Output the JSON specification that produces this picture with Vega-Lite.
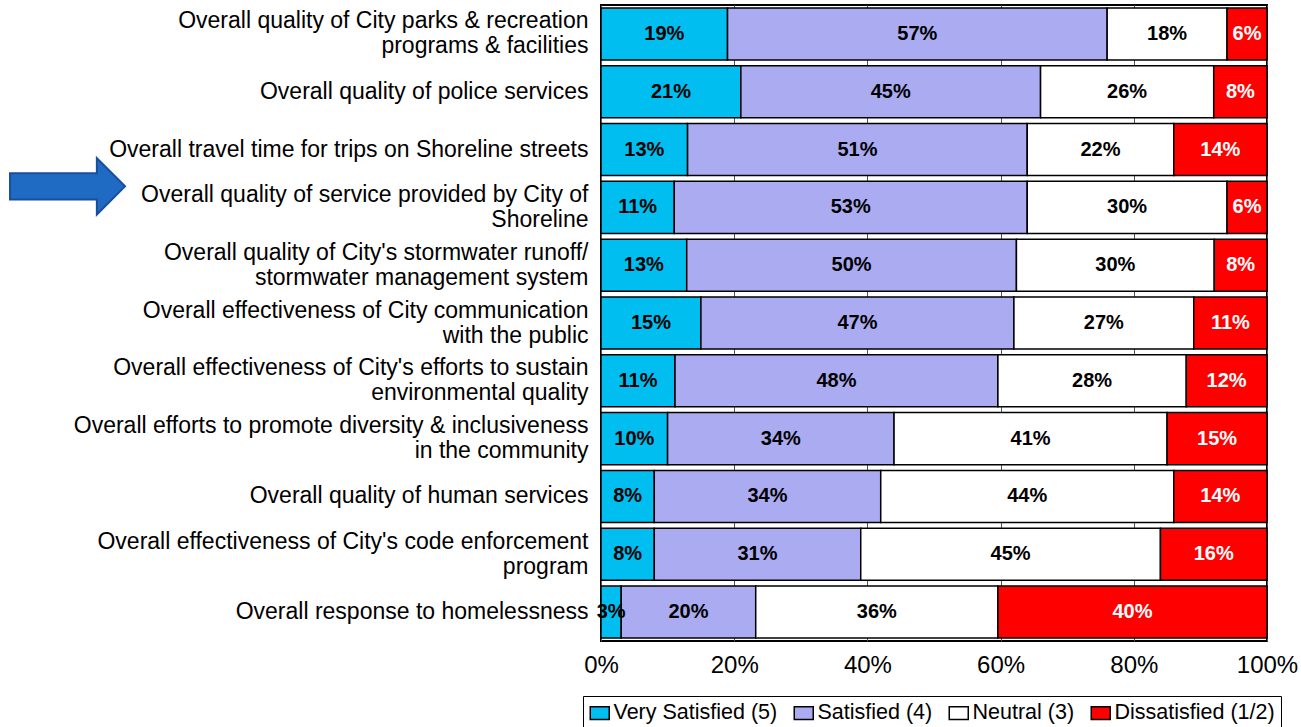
{
  "$schema": "https://vega.github.io/schema/vega-lite/v6.json",
  "width": 666,
  "height": 636,
  "autosize": {"type": "pad"},
  "padding": {"left": 6, "top": 5, "right": 2, "bottom": 0},
  "background": "white",
  "config": {
    "font": "Liberation Sans",
    "view": {"stroke": "black", "strokeWidth": 2}
  },
  "datasets": {
    "survey": [
      {"item": "Overall quality of City parks & recreation|programs & facilities", "response": "Very Satisfied (5)", "order": 1, "value": 19},
      {"item": "Overall quality of City parks & recreation|programs & facilities", "response": "Satisfied (4)", "order": 2, "value": 57},
      {"item": "Overall quality of City parks & recreation|programs & facilities", "response": "Neutral (3)", "order": 3, "value": 18},
      {"item": "Overall quality of City parks & recreation|programs & facilities", "response": "Dissatisfied (1/2)", "order": 4, "value": 6},
      {"item": "Overall quality of police services", "response": "Very Satisfied (5)", "order": 1, "value": 21},
      {"item": "Overall quality of police services", "response": "Satisfied (4)", "order": 2, "value": 45},
      {"item": "Overall quality of police services", "response": "Neutral (3)", "order": 3, "value": 26},
      {"item": "Overall quality of police services", "response": "Dissatisfied (1/2)", "order": 4, "value": 8},
      {"item": "Overall travel time for trips on Shoreline streets", "response": "Very Satisfied (5)", "order": 1, "value": 13},
      {"item": "Overall travel time for trips on Shoreline streets", "response": "Satisfied (4)", "order": 2, "value": 51},
      {"item": "Overall travel time for trips on Shoreline streets", "response": "Neutral (3)", "order": 3, "value": 22},
      {"item": "Overall travel time for trips on Shoreline streets", "response": "Dissatisfied (1/2)", "order": 4, "value": 14},
      {"item": "Overall quality of service provided by City of|Shoreline", "response": "Very Satisfied (5)", "order": 1, "value": 11},
      {"item": "Overall quality of service provided by City of|Shoreline", "response": "Satisfied (4)", "order": 2, "value": 53},
      {"item": "Overall quality of service provided by City of|Shoreline", "response": "Neutral (3)", "order": 3, "value": 30},
      {"item": "Overall quality of service provided by City of|Shoreline", "response": "Dissatisfied (1/2)", "order": 4, "value": 6},
      {"item": "Overall quality of City's stormwater runoff/|stormwater management system", "response": "Very Satisfied (5)", "order": 1, "value": 13},
      {"item": "Overall quality of City's stormwater runoff/|stormwater management system", "response": "Satisfied (4)", "order": 2, "value": 50},
      {"item": "Overall quality of City's stormwater runoff/|stormwater management system", "response": "Neutral (3)", "order": 3, "value": 30},
      {"item": "Overall quality of City's stormwater runoff/|stormwater management system", "response": "Dissatisfied (1/2)", "order": 4, "value": 8},
      {"item": "Overall effectiveness of City communication|with the public", "response": "Very Satisfied (5)", "order": 1, "value": 15},
      {"item": "Overall effectiveness of City communication|with the public", "response": "Satisfied (4)", "order": 2, "value": 47},
      {"item": "Overall effectiveness of City communication|with the public", "response": "Neutral (3)", "order": 3, "value": 27},
      {"item": "Overall effectiveness of City communication|with the public", "response": "Dissatisfied (1/2)", "order": 4, "value": 11},
      {"item": "Overall effectiveness of City's efforts to sustain|environmental quality", "response": "Very Satisfied (5)", "order": 1, "value": 11},
      {"item": "Overall effectiveness of City's efforts to sustain|environmental quality", "response": "Satisfied (4)", "order": 2, "value": 48},
      {"item": "Overall effectiveness of City's efforts to sustain|environmental quality", "response": "Neutral (3)", "order": 3, "value": 28},
      {"item": "Overall effectiveness of City's efforts to sustain|environmental quality", "response": "Dissatisfied (1/2)", "order": 4, "value": 12},
      {"item": "Overall efforts to promote diversity & inclusiveness|in the community", "response": "Very Satisfied (5)", "order": 1, "value": 10},
      {"item": "Overall efforts to promote diversity & inclusiveness|in the community", "response": "Satisfied (4)", "order": 2, "value": 34},
      {"item": "Overall efforts to promote diversity & inclusiveness|in the community", "response": "Neutral (3)", "order": 3, "value": 41},
      {"item": "Overall efforts to promote diversity & inclusiveness|in the community", "response": "Dissatisfied (1/2)", "order": 4, "value": 15},
      {"item": "Overall quality of human services", "response": "Very Satisfied (5)", "order": 1, "value": 8},
      {"item": "Overall quality of human services", "response": "Satisfied (4)", "order": 2, "value": 34},
      {"item": "Overall quality of human services", "response": "Neutral (3)", "order": 3, "value": 44},
      {"item": "Overall quality of human services", "response": "Dissatisfied (1/2)", "order": 4, "value": 14},
      {"item": "Overall effectiveness of City's code enforcement|program", "response": "Very Satisfied (5)", "order": 1, "value": 8},
      {"item": "Overall effectiveness of City's code enforcement|program", "response": "Satisfied (4)", "order": 2, "value": 31},
      {"item": "Overall effectiveness of City's code enforcement|program", "response": "Neutral (3)", "order": 3, "value": 45},
      {"item": "Overall effectiveness of City's code enforcement|program", "response": "Dissatisfied (1/2)", "order": 4, "value": 16},
      {"item": "Overall response to homelessness", "response": "Very Satisfied (5)", "order": 1, "value": 3},
      {"item": "Overall response to homelessness", "response": "Satisfied (4)", "order": 2, "value": 20},
      {"item": "Overall response to homelessness", "response": "Neutral (3)", "order": 3, "value": 36},
      {"item": "Overall response to homelessness", "response": "Dissatisfied (1/2)", "order": 4, "value": 40}
    ]
  },
  "layer": [
    {
      "data": {"name": "survey"},
      "mark": {"type": "bar", "stroke": "black", "strokeWidth": 1.5, "opacity": 1},
      "encoding": {
        "y": {
          "field": "item", "type": "nominal", "sort": null,
          "scale": {"paddingInner": 0.1, "paddingOuter": 0.05},
          "axis": {
            "title": null, "labelFontSize": 23, "labelColor": "black", "labelPadding": 13,
            "ticks": false, "domain": false, "labelLimit": 0,
            "labelExpr": "split(datum.label, '|')", "labelLineHeight": 25,
            "labelOffset": {"condition": {"test": "indexof(datum.value, '|') >= 0", "value": -12.5}, "value": 0}
          }
        },
        "x": {
          "field": "value", "type": "quantitative", "stack": "normalize",
          "scale": {"domain": [0, 1]},
          "axis": {
            "title": null, "format": "%", "values": [0, 0.2, 0.4, 0.6, 0.8, 1],
            "labelFontSize": 24, "labelColor": "black", "ticks": false, "domain": false,
            "grid": true, "gridColor": "#555555", "gridWidth": 1, "labelPadding": 12, "labelFlush": false
          }
        },
        "color": {
          "field": "response", "type": "nominal",
          "scale": {
            "domain": ["Very Satisfied (5)", "Satisfied (4)", "Neutral (3)", "Dissatisfied (1/2)"],
            "range": ["#00BFF0", "#ABABF2", "#FFFFFF", "#FF0000"]
          },
          "legend": {
            "orient": "none", "legendX": -18, "legendY": 691,
            "direction": "horizontal", "title": null,
            "labelFontSize": 21.5, "labelColor": "black", "labelLimit": 0,
            "symbolType": "M-1,-0.68L1,-0.68L1,0.68L-1,0.68Z",
            "symbolSize": 361, "symbolStrokeColor": "black", "symbolStrokeWidth": 1.5,
            "symbolOpacity": 1, "strokeColor": "black", "padding": 6,
            "columnPadding": 13, "labelOffset": 3
          }
        },
        "order": {"field": "order", "type": "quantitative"}
      }
    },
    {
      "data": {"name": "survey"},
      "transform": [
        {"stack": "value", "groupby": ["item"], "sort": [{"field": "order"}], "offset": "normalize", "as": ["v0", "v1"]},
        {"calculate": "(datum.v0 + datum.v1) / 2", "as": "mid"},
        {"calculate": "datum.value + '%'", "as": "label"}
      ],
      "mark": {"type": "text", "fontSize": 20, "fontWeight": "bold"},
      "encoding": {
        "y": {"field": "item", "type": "nominal", "sort": null},
        "x": {"field": "mid", "type": "quantitative"},
        "text": {"field": "label", "type": "nominal"},
        "color": {
          "condition": {"test": "datum.response === 'Dissatisfied (1/2)'", "value": "white"},
          "value": "black"
        }
      }
    },
    {
      "data": {"values": [{}]},
      "mark": {
        "type": "point",
        "shape": "M-1,-0.23L0.51,-0.23L0.51,-0.49L1,0L0.51,0.49L0.51,0.23L-1,0.23Z",
        "size": 13225, "filled": true, "fill": "#1F6BC4", "stroke": "#184F9C",
        "strokeWidth": 2, "opacity": 1, "yOffset": -21
      },
      "encoding": {
        "y": {"datum": "Overall quality of service provided by City of|Shoreline", "type": "nominal"},
        "x": {"datum": -0.801, "type": "quantitative"}
      }
    }
  ]
}
